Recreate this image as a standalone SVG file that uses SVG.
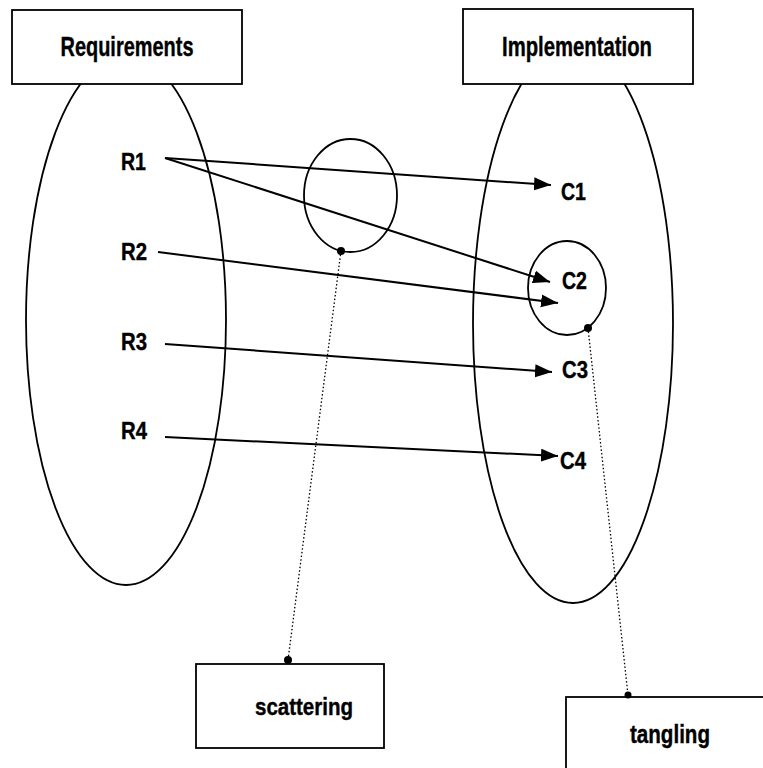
<svg xmlns="http://www.w3.org/2000/svg" width="763" height="768" viewBox="0 0 763 768">
<style>
.sh{fill:none;stroke:#000;stroke-width:1.8}
.box{fill:#fff;stroke:#000;stroke-width:1.8}
.ar{fill:none;stroke:#000;stroke-width:2;marker-end:url(#ah)}
.dt{fill:none;stroke:#000;stroke-width:1.3;stroke-dasharray:1.5 2.2}
.t{font-family:"Liberation Sans",Arial,sans-serif;font-weight:bold;fill:#000;stroke:#000;stroke-width:0.4}
.big{font-size:28px;text-anchor:middle}
.lb{font-size:23px}
</style>
<defs>
<marker id="ah" markerUnits="userSpaceOnUse" markerWidth="18" markerHeight="14" refX="17" refY="6.5" orient="auto">
<path d="M0,0 L17,6.5 L0,13 z" fill="#000"/>
</marker>
</defs>
<g id="req-set">
<ellipse class="sh" cx="126" cy="320" rx="100" ry="265"/>
</g>
<g id="impl-set">
<ellipse class="sh" cx="573" cy="323.5" rx="100" ry="279.5"/>
</g>
<g id="requirements">
<rect class="box" x="12" y="10" width="230" height="74"/>
<text class="t big" x="127" y="56" textLength="133" lengthAdjust="spacingAndGlyphs">Requirements</text>
</g>
<g id="implementation">
<rect class="box" x="463" y="9" width="230" height="75"/>
<text class="t big" x="577" y="56" textLength="150" lengthAdjust="spacingAndGlyphs">Implementation</text>
</g>
<g id="scatter-circle">
<ellipse class="sh" cx="350.5" cy="195.5" rx="46.5" ry="56.5"/>
</g>
<g id="c2-circle">
<ellipse class="sh" cx="567" cy="288" rx="39" ry="47"/>
</g>
<g id="R1"><text class="t lb" x="121" y="170" textLength="25" lengthAdjust="spacingAndGlyphs">R1</text></g>
<g id="R2"><text class="t lb" x="121" y="260" textLength="26" lengthAdjust="spacingAndGlyphs">R2</text></g>
<g id="R3"><text class="t lb" x="121" y="350" textLength="26" lengthAdjust="spacingAndGlyphs">R3</text></g>
<g id="R4"><text class="t lb" x="121" y="439" textLength="26" lengthAdjust="spacingAndGlyphs">R4</text></g>
<g id="C1"><text class="t lb" x="561" y="200" textLength="25" lengthAdjust="spacingAndGlyphs">C1</text></g>
<g id="C2"><text class="t lb" x="562" y="289" textLength="25" lengthAdjust="spacingAndGlyphs">C2</text></g>
<g id="C3"><text class="t lb" x="562" y="378" textLength="26" lengthAdjust="spacingAndGlyphs">C3</text></g>
<g id="C4"><text class="t lb" x="560" y="469" textLength="26" lengthAdjust="spacingAndGlyphs">C4</text></g>
<g id="scattering">
<rect class="box" x="196" y="664" width="188" height="84"/>
<text class="t" font-size="24" x="255" y="715" textLength="98" lengthAdjust="spacingAndGlyphs">scattering</text>
</g>
<g id="tangling">
<rect class="box" x="566" y="697" width="220" height="100"/>
<text class="t" font-size="25" x="630" y="743" textLength="80" lengthAdjust="spacingAndGlyphs">tangling</text>
</g>
<g id="connectors">
<line class="ar" x1="165" y1="158" x2="551" y2="185"/>
<line class="ar" x1="165" y1="158" x2="550" y2="282"/>
<line class="ar" x1="158" y1="252" x2="558" y2="303"/>
<line class="ar" x1="165" y1="344" x2="552" y2="372"/>
<line class="ar" x1="165" y1="437" x2="558" y2="456"/>
<line class="dt" x1="341" y1="251" x2="288" y2="660"/>
<line class="dt" x1="588" y1="328" x2="628" y2="695"/>
<circle cx="341" cy="251" r="4"/>
<circle cx="288" cy="660" r="4"/>
<circle cx="588" cy="328" r="4"/>
<circle cx="628" cy="695" r="3.5"/>
</g>
</svg>
